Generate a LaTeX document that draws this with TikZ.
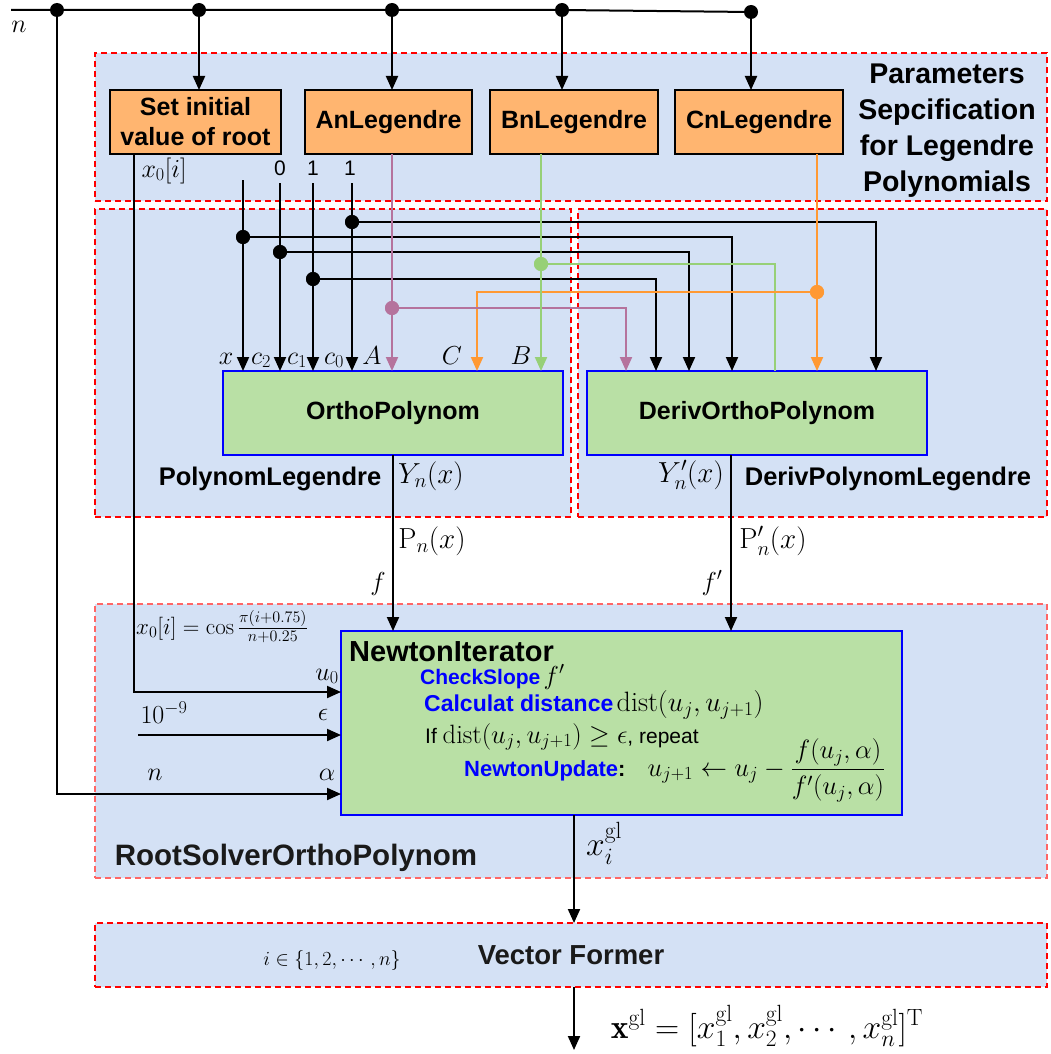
\RequirePackage{fix-cm}
\documentclass[tikz,border=0pt]{standalone}
\usepackage{amsmath,amssymb}
\usepackage{fontspec}
\setsansfont{Liberation Sans}
\usetikzlibrary{arrows.meta}
\definecolor{regfill}{HTML}{D4E1F5}
\definecolor{ofill}{HTML}{FFB570}
\definecolor{gfill}{HTML}{B9E0A5}
\definecolor{cpurple}{HTML}{B5739D}
\definecolor{cgreen}{HTML}{97D077}
\definecolor{corange}{HTML}{FF9933}
\definecolor{softred}{HTML}{FF6666}
\definecolor{darktxt}{HTML}{1A1A1A}
\begin{document}
\begin{tikzpicture}[x=1pt,y=-1pt,
  region/.style={rectangle,draw=red,line width=1.8pt,dash pattern=on 6pt off 4pt,fill=regfill,inner sep=0pt,outer sep=0pt},
  obox/.style={rectangle,draw=black,line width=1.5pt,fill=ofill,minimum height=64pt,inner sep=0pt,outer sep=0pt,align=center,font=\sffamily\bfseries\fontsize{25}{30}\selectfont},
  gbox/.style={rectangle,draw=blue,line width=2pt,fill=gfill,minimum width=340pt,minimum height=84pt,inner sep=0pt,outer sep=0pt,font=\sffamily\bfseries\fontsize{25}{30}\selectfont},
  wire/.style={line width=2pt,draw=black},
  arr/.style={wire,-{Triangle[length=14pt,width=12pt]}},
  wireP/.style={line width=2pt,draw=cpurple},
  arrP/.style={wireP,-{Triangle[length=14pt,width=12pt]}},
  wireG/.style={line width=2pt,draw=cgreen},
  arrG/.style={wireG,-{Triangle[length=14pt,width=12pt]}},
  wireO/.style={line width=2pt,draw=corange},
  arrO/.style={wireO,-{Triangle[length=14pt,width=12pt]}},
  jdot/.style={circle,fill=black,inner sep=0pt,outer sep=0pt,minimum size=14pt},
  mlab/.style={inner sep=0pt,anchor=base,font=\fontsize{26}{31}\selectfont},
  mbig/.style={inner sep=0pt,anchor=base,font=\fontsize{29}{34}\selectfont},
  mhuge/.style={inner sep=0pt,anchor=base,font=\fontsize{33.5}{39}\selectfont},
  tlab/.style={inner sep=0pt,anchor=base,font=\sffamily\bfseries\fontsize{25.5}{30}\selectfont},
  numlab/.style={inner sep=0pt,anchor=base,font=\sffamily\fontsize{21}{25}\selectfont},
]
\useasboundingbox (0,0) rectangle (1051,1054);

% ---------- regions ----------
\node[region,minimum width=952pt,minimum height=148pt] (preg) at (571,127) {};
\node[region,minimum width=476pt,minimum height=308pt] (lreg) at (333,363) {};
\node[region,minimum width=469pt,minimum height=308pt] (rreg) at (812.5,363) {};
\node[region,draw=softred,minimum width=952pt,minimum height=274pt] (sreg) at (571,741) {};
\node[region,minimum width=952pt,minimum height=64pt,font=\sffamily\bfseries\fontsize{27.5}{32}\selectfont,text=darktxt] (vec) at (571,955) {Vector Former};

% ---------- region titles ----------
\node[inner sep=0pt,align=center,font=\sffamily\bfseries\fontsize{28.5}{36}\selectfont] (ptitle) at (947,131) {Parameters\\Sepcification\\for Legendre\\Polynomials};
\node[tlab] (ltitle) at (270,485) {PolynomLegendre};
\node[tlab] (rtitle) at (888,485) {DerivPolynomLegendre};
\node[tlab,text=darktxt,font=\sffamily\bfseries\fontsize{29.5}{34}\selectfont] (stitle) at (296,865) {RootSolverOrthoPolynom};

% ---------- boxes ----------
\node[obox,minimum width=171pt] (setinit) at (195.5,122) {Set initial\\value of root};
\node[obox,minimum width=167pt] (an) at (388.5,122) {AnLegendre};
\node[obox,minimum width=168pt] (bn) at (574,122) {BnLegendre};
\node[obox,minimum width=168pt] (cn) at (759,122) {CnLegendre};
\node[gbox] (ortho) at (393,413) {OrthoPolynom};
\node[gbox] (deriv) at (757,413) {DerivOrthoPolynom};
\node[gbox,minimum width=561pt,minimum height=184pt] (newton) at (621.5,723) {};

% ---------- top bus n ----------
\coordinate (nstart) at (11,10);
\node[jdot] (d0) at (57,10) {};
\node[jdot] (d1) at (199,10) {};
\node[jdot] (d2) at (392,10) {};
\node[jdot] (d3) at (562,10) {};
\node[jdot] (d4) at (751,12) {};
\draw[wire] (nstart) -- (d3.center) -- (d4.center);
\node[mlab] (nlab) at (19,33) {$n$};
\draw[arr] (d1.center) -- (d1.center |- setinit.north);
\draw[arr] (d2.center) -- (d2.center |- an.north);
\draw[arr] (d3.center) -- (d3.center |- bn.north);
\draw[arr] (d4.center) -- (d4.center |- cn.north);

% ---------- Newton inputs ----------
\coordinate (inU) at (341,692);
\coordinate (inE) at (341,735);
\coordinate (inA) at (341,794);
\coordinate (epsstart) at (138,735);
\draw[arr] (d0.center) |- (inA);
\draw[arr] ([xshift=24pt]setinit.south west) |- (inU);
\draw[arr] (epsstart) -- (inE);
\node[mlab] (x0lab) at (164,177) {$x_0[i]$};
\node[inner sep=0pt,font=\fontsize{23}{27}\selectfont] (x0form) at (222,627) {$x_0[i]=\cos\frac{\pi(i+0.75)}{n+0.25}$};
\node[mlab] (u0lab) at (327,680) {$u_0$};
\node[mlab] (elab) at (323,720) {$\epsilon$};
\node[mlab] (alab) at (327,780) {$\alpha$};
\node[mlab] (tenlab) at (164,723) {$10^{-9}$};
\node[mlab] (nlab2) at (155,780) {$n$};

% ---------- constants ----------
\coordinate (px) at (243,180);
\coordinate (p0) at (280,183);
\coordinate (p1) at (313,183);
\coordinate (p2) at (352,183);
\node[numlab] (l0) at (280,175) {0};
\node[numlab] (l1) at (313,175) {1};
\node[numlab] (l2) at (350,175) {1};

\node[jdot] (dc0) at (352,222) {};
\node[jdot] (dx) at (243,237) {};
\node[jdot] (dc2) at (280,252) {};
\node[jdot,fill=cgreen] (dB) at (541,264) {};
\node[jdot] (dc1) at (313,279) {};
\node[jdot,fill=corange] (dC) at (817,292) {};
\node[jdot,fill=cpurple] (dA) at (392,308) {};

% branches to DerivOrthoPolynom
\draw[arr] (dc0.center) -| ([xshift=289pt]deriv.north west);
\draw[arr] (dx.center) -| ([xshift=145pt]deriv.north west);
\draw[arr] (dc2.center) -| ([xshift=102pt]deriv.north west);
\draw[wireG] (dB.center) -| ([xshift=188pt]deriv.north west);
\draw[arr] (dc1.center) -| ([xshift=69pt]deriv.north west);
\draw[arrO] (dC.center) -| ([xshift=254pt]ortho.north west);
\draw[arrP] (dA.center) -| ([xshift=39pt]deriv.north west);

% drops into OrthoPolynom
\draw[arr] (px) -- ([xshift=20pt]ortho.north west);
\draw[arr] (p0) -- ([xshift=57pt]ortho.north west);
\draw[arr] (p1) -- ([xshift=90pt]ortho.north west);
\draw[arr] (p2) -- ([xshift=129pt]ortho.north west);
\draw[arrP] (an.south -| dA) -- ([xshift=169pt]ortho.north west);
\draw[arrG] (bn.south -| dB) -- ([xshift=318pt]ortho.north west);
\draw[arrO] (cn.south -| dC) -- ([xshift=230pt]deriv.north west);
\node[jdot] at (dc0) {};
\node[jdot] at (dx) {};
\node[jdot] at (dc2) {};
\node[jdot] at (dc1) {};
\node[jdot,fill=cgreen] at (dB) {};
\node[jdot,fill=corange] at (dC) {};
\node[jdot,fill=cpurple] at (dA) {};

% input labels
\node[mlab] (lx) at (226,364) {$x$};
\node[mlab] (lc2) at (261,364) {$c_2$};
\node[mlab] (lc1) at (297,364) {$c_1$};
\node[mlab] (lc0) at (334,364) {$c_0$};
\node[mlab] (lA) at (372,364) {$A$};
\node[mlab] (lC) at (452,364) {$C$};
\node[mlab] (lB) at (521,364) {$B$};

% ---------- outputs ----------
\draw[arr] (ortho.south) -- (ortho.south |- newton.north);
\coordinate (dout) at ([xshift=144pt]deriv.south west);
\draw[arr] (dout) -- (dout |- newton.north);
\node[mbig] (ylab) at (431,483) {$Y_n(x)$};
\node[mbig] (plab) at (432,548) {$\mathrm{P}_n(x)$};
\node[mlab] (flab) at (378,590) {$f$};
\node[mbig] (ydlab) at (691,482) {$Y'_n(x)$};
\node[mbig] (pdlab) at (773,548) {$\mathrm{P}'_n(x)$};
\node[mlab] (fdlab) at (712,590) {$f'$};

\coordinate (nout) at ([xshift=233pt]newton.south west);
\draw[arr] (nout) -- (nout |- vec.north);
\coordinate (xend) at (574,1050);
\draw[arr] (vec.south -| nout) -- (xend);
\node[mhuge] (xilab) at (604,855) {$x_i^{\mathrm{gl}}$};
\node[mhuge] (outlab) at (767,1038) {$\mathbf{x}^{\mathrm{gl}}=[x_1^{\mathrm{gl}},x_2^{\mathrm{gl}},\cdots,x_n^{\mathrm{gl}}]^{\mathrm{T}}$};
\node[inner sep=0pt,anchor=base,font=\fontsize{20}{24}\selectfont] (ilab) at (332,965) {$i\in\{1,2,\cdots,n\}$};

% ---------- Newton contents ----------
\node[inner sep=0pt,anchor=base west,font=\sffamily\bfseries\fontsize{29}{34}\selectfont] (ntitle) at (349,661) {NewtonIterator};
\node[inner sep=0pt,anchor=base west] (nline1) at (420,684) {{\sffamily\bfseries\fontsize{21}{25}\selectfont\color{blue}CheckSlope} {\fontsize{26}{31}\selectfont$f'$}};
\node[inner sep=0pt,anchor=base west] (nline2) at (424,711) {{\sffamily\bfseries\fontsize{23}{27}\selectfont\color{blue}Calculat distance} {\fontsize{28}{33}\selectfont$\mathrm{dist}(u_j,u_{j+1})$}};
\node[inner sep=0pt,anchor=base west] (nline3) at (425,743) {\sffamily\fontsize{21}{25}\selectfont If {\fontsize{26.5}{31}\selectfont$\mathrm{dist}(u_j,u_{j+1})\geq\epsilon$}, repeat};
\node[inner sep=0pt,anchor=base west] (nline4) at (464,776) {{\sffamily\bfseries\fontsize{22}{26}\selectfont\color{blue}NewtonUpdate{\color{black}:}}\hspace{22pt}{\fontsize{26.5}{31}\selectfont$u_{j+1}\leftarrow u_j-\dfrac{f(u_j,\alpha)}{f'(u_j,\alpha)}$}};
\end{tikzpicture}
\end{document}
